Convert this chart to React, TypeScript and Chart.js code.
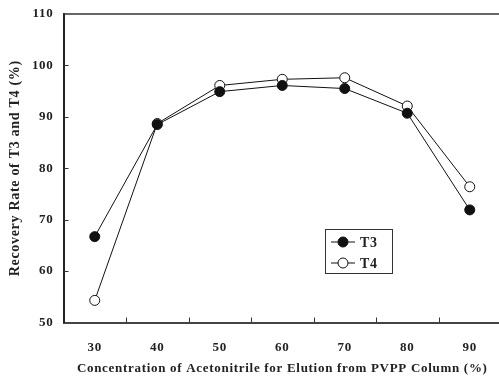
import React, { useEffect, useRef } from "react";
import { Chart, registerables } from "chart.js";

Chart.register(...registerables);

const categories = ["30", "40", "50", "60", "70", "80", "90"];
const t3Values = [66.7, 88.5, 94.9, 96.1, 95.5, 90.7, 71.9];
const t4Values = [54.3, 88.7, 96.1, 97.3, 97.6, 92.1, 76.4];
const yTicks = [60, 70, 80, 90, 100];
const yTitle = "Recovery Rate of T3 and T4 (%)";
const xTitle = "Concentration of Acetonitrile for Elution from PVPP Column (%)";

const FONT = "'Liberation Serif', 'Times New Roman', serif";
const INK = "#222";

const decorPlugin = {
  id: "decor",
  beforeDraw(chart: any) {
    try {
      chart.ctx.letterSpacing = "0.7px";
    } catch (e) {}
  },
  afterDraw(chart: any) {
    const { ctx, chartArea, scales } = chart;
    const x = scales.x;
    const y = scales.y;
    ctx.save();
    // top border
    ctx.strokeStyle = "#333";
    ctx.lineWidth = 1.5;
    ctx.beginPath();
    ctx.moveTo(chartArea.left, chartArea.top);
    ctx.lineTo(chartArea.right + 5, chartArea.top);
    ctx.stroke();
    // inward tick marks at category edges
    ctx.lineWidth = 1;
    ctx.strokeStyle = "#333";
    const n = categories.length;
    for (let i = 0; i < n - 1; i++) {
      const px = Math.round((x.getPixelForTick(i) + x.getPixelForTick(i + 1)) / 2) + 0.5;
      ctx.beginPath();
      ctx.moveTo(px, chartArea.bottom);
      ctx.lineTo(px, chartArea.bottom - 5);
      ctx.stroke();
    }
    // inward tick marks on the y axis
    yTicks.forEach((v) => {
      const py = Math.round(y.getPixelForValue(v)) + 0.5;
      ctx.beginPath();
      ctx.moveTo(chartArea.left, py);
      ctx.lineTo(chartArea.left + 5, py);
      ctx.stroke();
    });
    // legend box
    const bx = 325, by = 229, bw = 67, bh = 44;
    ctx.lineWidth = 1;
    ctx.strokeStyle = "#333";
    ctx.strokeRect(bx + 0.5, by + 0.5, bw, bh);
    chart.data.datasets.forEach((ds: any, i: number) => {
      const cy = by + 13 + i * 21;
      ctx.strokeStyle = "#111";
      ctx.lineWidth = 1;
      ctx.beginPath();
      ctx.moveTo(bx + 6, cy);
      ctx.lineTo(bx + 30, cy);
      ctx.stroke();
      ctx.beginPath();
      ctx.arc(bx + 18, cy, 5, 0, Math.PI * 2);
      ctx.fillStyle = ds.pointBackgroundColor;
      ctx.fill();
      ctx.strokeStyle = ds.pointBorderColor;
      ctx.stroke();
      ctx.fillStyle = INK;
      ctx.font = `bold 14px ${FONT}`;
      ctx.textBaseline = "middle";
      ctx.textAlign = "left";
      ctx.fillText(ds.label, bx + 35, cy + 1);
    });
    ctx.restore();
  },
};

export default function App() {
  const ref = useRef<HTMLCanvasElement | null>(null);
  useEffect(() => {
    document.body.style.margin = "0";
    document.body.style.overflow = "hidden";
    const chart = new Chart(ref.current as HTMLCanvasElement, {
      type: "line",
      data: {
        labels: categories,
        datasets: [
          {
            label: "T3",
            data: t3Values,
            borderColor: "#111",
            borderWidth: 1,
            pointRadius: 5,
            pointBorderWidth: 1,
            pointBackgroundColor: "#111",
            pointBorderColor: "#111",
            tension: 0,
          },
          {
            label: "T4",
            data: t4Values,
            borderColor: "#111",
            borderWidth: 1,
            pointRadius: 5,
            pointBorderWidth: 1,
            pointBackgroundColor: "#fff",
            pointBorderColor: "#111",
            tension: 0,
          },
        ],
      },
      options: {
        responsive: false,
        animation: false,
        layout: { padding: { top: 14, left: 0, right: 0, bottom: 0 } },
        plugins: { legend: { display: false }, tooltip: { enabled: false } },
        scales: {
          x: {
            type: "category",
            offset: true,
            grid: { display: false, drawTicks: false },
            border: { display: true, color: "#444", width: 2 },
            ticks: { color: INK, font: { family: FONT, size: 13, weight: "bold" }, padding: 17 },
            title: {
              display: true,
              text: xTitle,
              color: INK,
              font: { family: FONT, size: 13, weight: "bold" },
              padding: { top: 4, bottom: 0 },
            },
            afterFit: (s: any) => {
              s.height = 53.5;
            },
          },
          y: {
            min: 50,
            max: 110,
            ticks: { stepSize: 10, color: INK, font: { family: FONT, size: 13, weight: "bold" }, padding: 10 },
            grid: { display: false, drawTicks: false },
            border: { display: true, color: "#222", width: 2 },
            title: {
              display: true,
              text: yTitle,
              color: INK,
              font: { family: FONT, size: 14, weight: "bold" },
              padding: { top: 6.5, bottom: 0 },
            },
            afterFit: (s: any) => {
              s.width = 63.5;
              s.paddingTop = 6;
              s.paddingBottom = 6;
            },
          },
        },
      },
      plugins: [decorPlugin],
    });
    return () => chart.destroy();
  }, []);
  return <canvas ref={ref} width={507} height={376} style={{ display: "block" }} />;
}
